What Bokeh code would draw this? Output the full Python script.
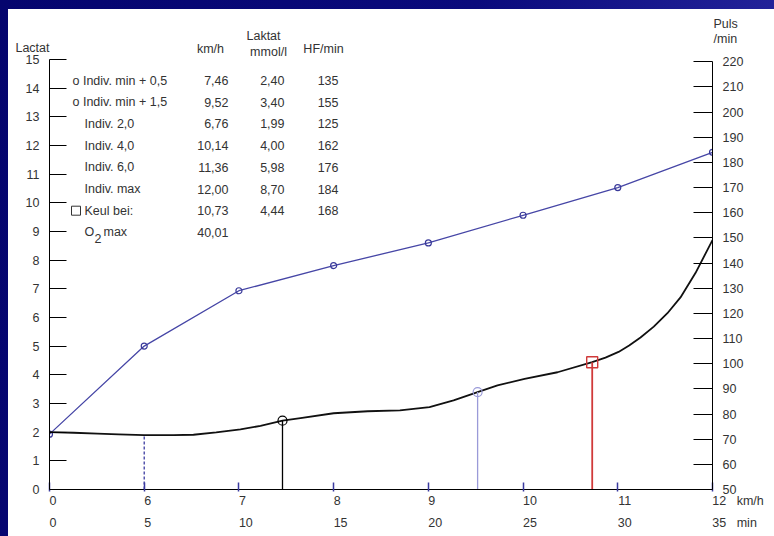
from bokeh.plotting import figure
from bokeh.models import Range1d, LinearAxis, FixedTicker
from bokeh.layouts import column
from bokeh.embed import file_html
from bokeh.resources import INLINE
from bokeh.core.properties import value

# --- data -------------------------------------------------------------
# Step test: the x axis runs in minutes, every 5 min the speed rises by 1 km/h
minutes = [0, 5, 10, 15, 20, 25, 30, 35]
speed_labels = ["0", "6", "7", "8", "9", "10", "11", "12"]
minute_labels = ["0", "5", "10", "15", "20", "25", "30", "35"]

# heart rate at the end of every stage (1/min)
hf_stage = [72, 107, 129, 139, 148, 159, 170, 184]

# lactate curve (minutes, mmol/l)
lac_min = [0.0, 1.27, 2.53, 3.64, 5.0, 6.55, 7.6, 8.8, 10.08, 11.14, 12.3, 13.25,
           15.0, 16.8, 18.5, 20.06, 21.33, 22.6, 23.65, 25.08, 26.82, 28.65,
           29.35, 30.04, 30.6, 31.2, 31.9, 32.62, 33.31, 34.1, 35.0]
lac_val = [2.00, 1.98, 1.95, 1.92, 1.90, 1.90, 1.91, 1.99, 2.10, 2.22, 2.40, 2.49,
           2.66, 2.73, 2.76, 2.87, 3.11, 3.40, 3.63, 3.86, 4.09, 4.44,
           4.60, 4.80, 5.02, 5.30, 5.68, 6.15, 6.70, 7.55, 8.70]

# thresholds (km/h, mmol/l)
indiv_min_kmh, indiv_min_lac = 6.0, 1.90
thr05_kmh, thr05_lac = 7.46, 2.40
thr15_kmh, thr15_lac = 9.52, 3.40
keul_kmh, keul_lac = 10.73, 4.44

# summary table
tbl_names = ["o Indiv. min + 0,5", "o Indiv. min + 1,5", "Indiv. 2,0", "Indiv. 4,0",
             "Indiv. 6,0", "Indiv. max", "Keul bei:", "O"]
tbl_kmh = ["7,46", "9,52", "6,76", "10,14", "11,36", "12,00", "10,73", "40,01"]
tbl_lac = ["2,40", "3,40", "1,99", "4,00", "5,98", "8,70", "4,44", ""]
tbl_hf = ["135", "155", "125", "162", "176", "184", "168", ""]

lac_ticks = list(range(0, 16))
puls_ticks = list(range(50, 221, 10))

# --- geometry helpers -------------------------------------------------
PX_PER_MIN = 663 / 35.0
PX_PER_LAC = 430 / 15.0
PX_PER_BPM = 2.516
FRAME_H = 480
LAC_TOP = FRAME_H / PX_PER_LAC
PULS_TOP = 50 + FRAME_H / PX_PER_BPM

FIG = "\u2007"    # figure space, digit wide
THIN = "\u2009"


def kmh_to_min(v):
    return (v - 5.0) * 5.0


def xd(px):  # page x pixel -> minutes
    return (px - 49) / PX_PER_MIN


def yd(py):  # page y pixel -> lactate units
    return (489 - py) / PX_PER_LAC


def left_start(s):
    # centred tick labels padded so the digits begin at the tick
    return FIG * len(s) + s


FONT_NAME = "Liberation Sans"
FONT = value(FONT_NAME)
FS = "12.5px"
TXT = "#333333"
NAVY = "#3a3aa0"

p = figure(width=766, height=527, output_backend="svg", toolbar_location=None,
           x_range=Range1d(0, 35), y_range=Range1d(0, LAC_TOP),
           min_border_left=41, min_border_right=62, min_border_top=0,
           min_border_bottom=47, outline_line_color=None,
           background_fill_color="white", border_fill_color="white")
p.grid.visible = False
p.extra_y_ranges = {"puls": Range1d(50, PULS_TOP)}

label_style = dict(major_label_text_font=FONT_NAME, major_label_text_font_size=FS,
                   major_label_text_color=TXT)

# left lactate axis
ly = p.yaxis[0]
ly.ticker = FixedTicker(ticks=lac_ticks)
ly.bounds = (0, 15)
ly.major_tick_in = 17
ly.major_tick_out = 0
ly.minor_tick_line_color = None
ly.major_label_standoff = 10
ly.axis_line_color = "black"
ly.major_tick_line_color = "black"
ly.update(**label_style)

# axis title "Lactat" above the scale
ly_title = LinearAxis(ticker=FixedTicker(ticks=[15.4]), major_label_overrides={15.4: "Lactat"},
                      axis_line_color=None, major_tick_line_color=None,
                      minor_tick_line_color=None, major_tick_out=0, major_tick_in=0,
                      major_label_standoff=-27, **label_style)
p.add_layout(ly_title, "left")

# right pulse axis
ry = LinearAxis(y_range_name="puls", ticker=FixedTicker(ticks=puls_ticks), bounds=(50, 220),
                major_tick_in=19, major_tick_out=0, minor_tick_line_color=None,
                major_label_standoff=10, axis_line_color="black",
                major_tick_line_color="black", **label_style)
p.add_layout(ry, "right")

ry_title = LinearAxis(y_range_name="puls", ticker=FixedTicker(ticks=[229, 235]),
                      major_label_overrides={235: "Puls", 229: "/min"},
                      axis_line_color=None, major_tick_line_color=None,
                      minor_tick_line_color=None, major_tick_out=0, major_tick_in=0,
                      major_label_standoff=-33, **label_style)
p.add_layout(ry_title, "right")

# bottom axes: speed and time
speed_over = {m: left_start(s) for m, s in zip(minutes, speed_labels)}
speed_over[35] = FIG * 7 + THIN + "12" + FIG + " km/h"
minute_over = {m: left_start(s) for m, s in zip(minutes, minute_labels)}
minute_over[35] = FIG * 6 + THIN + "35" + FIG + " min"

bx = p.xaxis[0]
bx.ticker = FixedTicker(ticks=minutes)
bx.major_label_overrides = speed_over
bx.major_tick_in = 7
bx.major_tick_out = 2
bx.major_tick_line_color = NAVY
bx.major_tick_line_width = 1.5
bx.minor_tick_line_color = None
bx.axis_line_color = "black"
bx.major_label_standoff = 2
bx.update(**label_style)

tx = LinearAxis(ticker=FixedTicker(ticks=minutes), major_label_overrides=minute_over,
                axis_line_color=None, major_tick_line_color=None, minor_tick_line_color=None,
                major_tick_out=0, major_tick_in=0, major_label_standoff=5, **label_style)
p.add_layout(tx, "below")

# heart rate line
p.line(minutes, hf_stage, y_range_name="puls", line_color="#4646a6", line_width=1.3)
p.scatter(minutes, hf_stage, y_range_name="puls", marker="circle", size=6,
          line_color="#3a3a9a", fill_color=None, line_width=1.2)

# lactate curve
p.line(lac_min, lac_val, line_color="#111111", line_width=1.8, line_join="round")

# threshold drop lines and markers
p.segment(x0=[kmh_to_min(indiv_min_kmh)], y0=[0], x1=[kmh_to_min(indiv_min_kmh)],
          y1=[indiv_min_lac], line_color=NAVY, line_width=1.3, line_dash="3 2")
p.segment(x0=[kmh_to_min(thr05_kmh)], y0=[0], x1=[kmh_to_min(thr05_kmh)],
          y1=[thr05_lac], line_color="black", line_width=1.3)
p.segment(x0=[kmh_to_min(thr15_kmh)], y0=[0], x1=[kmh_to_min(thr15_kmh)],
          y1=[thr15_lac], line_color="#9a9ad8", line_width=1.3)
p.segment(x0=[kmh_to_min(keul_kmh)], y0=[0], x1=[kmh_to_min(keul_kmh)],
          y1=[keul_lac], line_color="#d03a3a", line_width=1.8)
p.scatter([kmh_to_min(thr05_kmh)], [thr05_lac], marker="circle", size=9,
          line_color="black", fill_color=None, line_width=1.2)
p.scatter([kmh_to_min(thr15_kmh)], [thr15_lac], marker="circle", size=9,
          line_color="#9a9ad8", fill_color=None, line_width=1.2)
p.scatter([kmh_to_min(keul_kmh)], [keul_lac], marker="square", size=11,
          line_color="#d03a3a", fill_color=None, line_width=1.4)

# summary table
row_y = [yd(80 + 21.7 * i) for i in range(len(tbl_names))]
name_x = [xd(72) if n.startswith("o ") else xd(84) for n in tbl_names]
common = dict(text_font=FONT, text_font_size=FS, text_color=TXT, text_baseline="middle")
p.text(x=name_x, y=row_y, text=tbl_names, text_align="left", **common)
p.text(x=[xd(228)] * len(tbl_kmh), y=row_y, text=tbl_kmh, text_align="right", **common)
p.text(x=[xd(284)] * len(tbl_lac), y=row_y, text=tbl_lac, text_align="right", **common)
p.text(x=[xd(338)] * len(tbl_hf), y=row_y, text=tbl_hf, text_align="right", **common)
# subscript and rest of "O2 max"
p.text(x=[xd(94)], y=[row_y[7]], text=["2"], text_align="left", y_offset=6, **common)
p.text(x=[xd(103)], y=[row_y[7]], text=["max"], text_align="left", **common)
# square symbol in front of "Keul bei:"
p.scatter([xd(75.5)], [row_y[6]], marker="square", size=9, line_color="#333333",
          fill_color=None, line_width=1)

# table headings
p.text(x=[xd(210), xd(323)], y=[yd(48), yd(48)], text=["km/h", "HF/min"],
       text_align="center", **common)
p.text(x=[xd(263), xd(268)], y=[yd(35), yd(51)], text=["Laktat", "mmol/l"],
       text_align="center", **common)

sheet = column(p, styles={"background-color": "white"})
sheet.margin = (9, 0, 0, 8)
page = column(sheet, styles={"background": "linear-gradient(100deg, #05056e 0%, #0a0a7c 55%, #2a2aa2 100%)"})
open("out.html", "w").write(file_html(page, INLINE))
